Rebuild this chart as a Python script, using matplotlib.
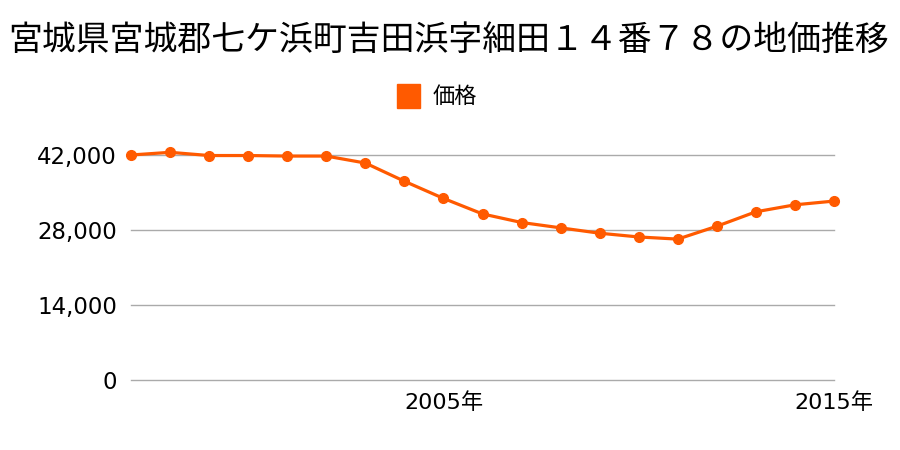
import matplotlib
matplotlib.use("Agg")
import matplotlib.pyplot as plt
from matplotlib.patches import Rectangle

plt.rcParams['font.family'] = ['Noto Sans CJK JP', 'DejaVu Sans']

TITLE = "宮城県宮城郡七ケ浜町吉田浜字細田１４番７８の地価推移"
SERIES = "価格"
years = list(range(1997, 2016))
prices = [42000, 42500, 41900, 41900, 41800, 41800, 40500, 37100, 33900, 31000,
          29400, 28400, 27400, 26700, 26300, 28700, 31400, 32700, 33400]
yticks = [0, 14000, 28000, 42000]
xticks = [2005, 2015]
xticklabels = ["2005年", "2015年"]

COLOR = "#ff5a00"
TICK_FONT = ['DejaVu Sans', 'Noto Sans CJK JP']

fig = plt.figure(figsize=(9, 4.5), dpi=100)
ax = fig.add_axes([131 / 900, 1 - 380 / 450, (834 - 131) / 900, (380 - 155) / 450])

ax.plot(years, prices, color=COLOR, lw=2.3, marker="o", ms=7, clip_on=False, zorder=3)

ax.set_xlim(years[0], years[-1])
ax.set_ylim(0, 42000)
ax.set_yticks(yticks)
ax.set_yticklabels([f"{v:,}" for v in yticks], fontsize=16.5, family=TICK_FONT)
ax.set_xticks(xticks)
ax.set_xticklabels(xticklabels, fontsize=16, family=TICK_FONT)
ax.tick_params(axis="y", length=0, pad=10)
ax.tick_params(axis="x", length=0, pad=9)
ax.grid(axis="y", color="#aaaaaa", lw=1)
for gl in ax.get_ygridlines():
    gl.set_clip_on(False)
ax.set_axisbelow(True)
for s in ax.spines.values():
    s.set_visible(False)

fig.text(449 / 900, 1 - 40 / 450, TITLE, ha="center", va="center", fontsize=24.4)
fig.patches.append(Rectangle((397 / 900, 1 - 108 / 450), 23 / 900, 24 / 450,
                             transform=fig.transFigure, color=COLOR))
fig.text(433 / 900, 1 - 96 / 450, SERIES, ha="left", va="center", fontsize=16)

fig.savefig("out.png", dpi=100)
